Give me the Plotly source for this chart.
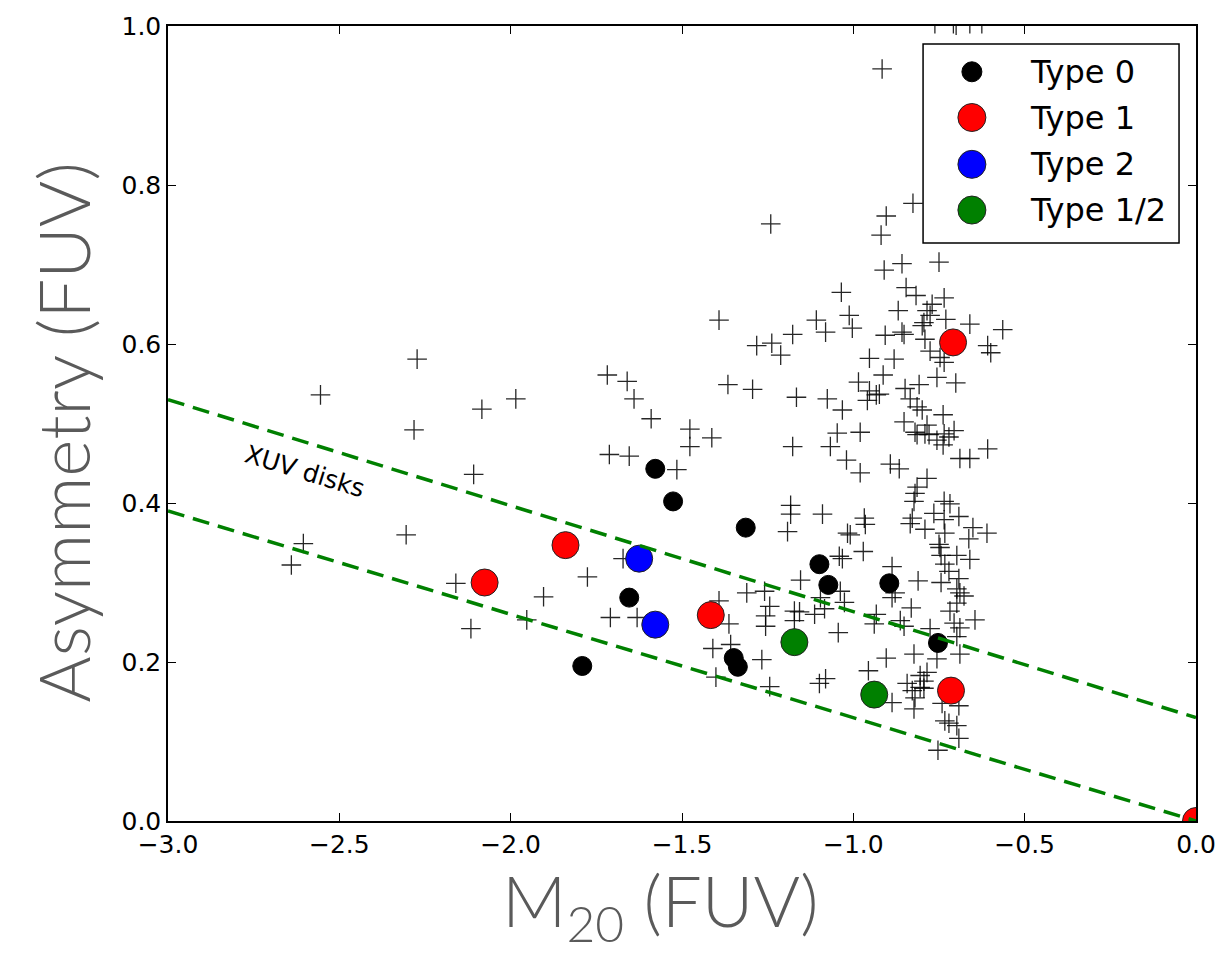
import plotly.graph_objects as go

# Whole-galaxy sample (plus markers): M20 and asymmetry in the FUV
sample_m20 = [
    -2.555, -2.273, -2.282, -2.084, -1.985, -1.718, -2.108, -1.712, -2.305, -2.605,
    -2.640, -2.160, -1.904, -1.776, -1.953, -2.116, -1.709,
    -1.392, -1.282, -1.238, -1.177, -1.212, -1.660, -1.640, -1.366, -1.294, -1.166,
    -1.590, -1.477, -1.413, -1.477, -1.177, -1.654, -1.515, -1.183, -1.183, -1.192,
    -1.241, -0.916, -0.826, -0.904, -0.919, -0.858, -0.750, -0.910,
    -0.762, -0.708, -0.700, -0.660, -0.625,
    -1.035, -0.846, -0.817, -0.735, -0.770, -0.785, -0.776, -0.869, -0.730, -0.794,
    -0.799, -1.012, -1.108, -0.660, -0.564, -1.081, -1.003, -0.907, -0.858, -0.852,
    -0.791, -0.776, -0.747, -0.735, -0.608, -0.599, -0.953, -0.881, -0.913, -0.985,
    -0.756, -0.701, -0.808, -0.849, -0.953, -0.933, -0.924, -0.959, -1.076, -0.834,
    -0.814, -0.799, -1.032, -0.738, -0.852, -0.785, -0.706, -0.820, -0.814, -0.791,
    -0.779, -0.735, -0.721, -1.047, -0.980, -0.756, -0.738, -1.067, -0.608, -0.689,
    -0.660, -1.020, -0.980, -0.892, -0.866, -0.785, -0.814, -0.820, -0.823, -0.735,
    -0.718, -0.765, -0.692, -1.090, -0.968, -0.828, -0.735,
    -0.965, -1.017, -1.009, -0.834, -0.791, -0.733, -0.651, -0.610, -0.663, -0.750,
    -0.747, -0.971, -1.041, -1.032, -0.698, -0.660, -0.744, -0.733, -0.721, -0.887,
    -0.744, -0.692, -0.811, -1.154, -0.878, -0.887, -0.698, -0.689, -0.677, -1.038,
    -1.026, -1.096, -1.084, -1.113, -1.157, -0.831, -0.718, -0.698, -0.933, -0.939,
    -0.863, -0.852, -0.645, -0.706, -0.689, -0.776, -0.698, -1.044, -0.689, -0.823,
    -0.756, -0.904, -0.956, -0.785, -0.805, -0.794, -1.081, -1.099, -0.843, -0.828,
    -0.805, -0.794, -0.820, -0.887, -0.823, -0.741, -0.692, -0.733, -0.721, -0.698,
    -0.692, -0.753,
    -1.672, -1.631, -1.392, -1.363, -1.311, -1.259, -1.244, -1.256, -1.256, -1.172,
    -1.172, -1.410, -1.358, -1.267, -1.401, -1.244,
]
sample_asym = [
    0.536, 0.581, 0.492, 0.518, 0.531, 0.561, 0.436, 0.461, 0.360, 0.349,
    0.322, 0.299, 0.282, 0.307, 0.253, 0.242, 0.256,
    0.630, 0.598, 0.601, 0.612, 0.586, 0.553, 0.531, 0.549, 0.543, 0.533,
    0.506, 0.493, 0.482, 0.471, 0.471, 0.459, 0.442, 0.397, 0.386, 0.364,
    0.751, 0.946, 0.777, 0.761, 0.737, 0.701, 0.703, 0.693,
    1.003, 1.003, 1.001, 1.003, 1.003,
    0.665, 0.671, 0.661, 0.658, 0.650, 0.642, 0.636, 0.642, 0.631, 0.627,
    0.623, 0.636, 0.630, 0.625, 0.618, 0.615, 0.620, 0.611, 0.615, 0.612,
    0.606, 0.591, 0.583, 0.577, 0.598, 0.589, 0.582, 0.581, 0.561, 0.552,
    0.558, 0.551, 0.549, 0.544, 0.541, 0.536, 0.537, 0.529, 0.531, 0.531,
    0.521, 0.517, 0.517, 0.511, 0.502, 0.498, 0.491, 0.489, 0.486, 0.487,
    0.486, 0.487, 0.483, 0.488, 0.489, 0.479, 0.473, 0.471, 0.468, 0.456,
    0.456, 0.454, 0.438, 0.449, 0.443, 0.431, 0.420, 0.412, 0.402, 0.402,
    0.399, 0.387, 0.383, 0.386, 0.381, 0.381, 0.379,
    0.373, 0.362, 0.360, 0.374, 0.367, 0.362, 0.369, 0.362, 0.355, 0.348,
    0.344, 0.339, 0.333, 0.330, 0.334, 0.329, 0.334, 0.323, 0.314, 0.320,
    0.300, 0.305, 0.302, 0.303, 0.287, 0.281, 0.292, 0.287, 0.283, 0.289,
    0.275, 0.281, 0.267, 0.260, 0.263, 0.268, 0.264, 0.274, 0.260, 0.248,
    0.252, 0.245, 0.253, 0.249, 0.243, 0.242, 0.232, 0.237, 0.210, 0.210,
    0.204, 0.205, 0.189, 0.187, 0.183, 0.176, 0.179, 0.173, 0.173, 0.164,
    0.168, 0.167, 0.155, 0.149, 0.141, 0.148, 0.145, 0.126, 0.123, 0.120,
    0.104, 0.089,
    0.330, 0.256, 0.277, 0.248, 0.287, 0.289, 0.270, 0.258, 0.245, 0.264,
    0.252, 0.217, 0.222, 0.203, 0.181, 0.169,
]

# Classified galaxies
type0_m20 = [-1.578, -1.526, -1.314, -1.654, -1.791, -1.349, -1.337, -1.099, -1.073, -0.895, -0.753]
type0_asym = [0.443, 0.402, 0.369, 0.281, 0.195, 0.205, 0.194, 0.323, 0.297, 0.299, 0.224]

type1_m20 = [-2.076, -1.840, -1.416, -0.709, -0.715, 0.0]
type1_asym = [0.300, 0.347, 0.259, 0.602, 0.164, 0.0]

type2_m20 = [-1.625, -1.578]
type2_asym = [0.330, 0.247]

type12_m20 = [-1.172, -0.939]
type12_asym = [0.225, 0.159]

# XUV-disk selection boundaries
boundary_m20 = [-3.0, 0.0]
upper_asym = [0.53, 0.13]
lower_asym = [0.39, 0.0]

legend_labels = ["Type 0", "Type 1", "Type 2", "Type 1/2"]
legend_colors = ["black", "#ff0000", "#0000ff", "#008000"]
legend_radius = [10, 14, 14, 14]

x_ticks = [-3.0, -2.5, -2.0, -1.5, -1.0, -0.5, 0.0]
y_ticks = [0.0, 0.2, 0.4, 0.6, 0.8, 1.0]

fig = go.Figure()

fig.add_trace(go.Scatter(
    x=sample_m20, y=sample_asym, mode="markers",
    marker=dict(symbol="cross-thin", size=14, color="black",
                line=dict(color="rgba(0,0,0,0.85)", width=1.3)),
))

fig.add_trace(go.Scatter(
    x=type0_m20, y=type0_asym, mode="markers",
    marker=dict(size=19, color="black", line=dict(color="black", width=1)),
))
for xs, ys, col in [(type1_m20, type1_asym, "#ff0000"),
                    (type2_m20, type2_asym, "#0000ff"),
                    (type12_m20, type12_asym, "#008000")]:
    fig.add_trace(go.Scatter(
        x=xs, y=ys, mode="markers",
        marker=dict(size=27, color=col, line=dict(color="#222222", width=1)),
    ))

for ys in (upper_asym, lower_asym):
    fig.add_trace(go.Scatter(
        x=boundary_m20, y=ys, mode="lines",
        line=dict(color="#008000", width=3.5, dash="17px,9px"),
    ))

# Hand-drawn legend box in the upper right
lx0, lx1, ly0, ly1 = 0.7345, 0.9835, 0.7272, 0.9775
shapes = [dict(type="rect", xref="paper", yref="paper", x0=lx0, x1=lx1, y0=ly0, y1=ly1,
               line=dict(color="black", width=1.5), fillcolor="white", layer="above")]
annotations = []
item_y = [0.9424, 0.8849, 0.8260, 0.7685]
for lab, col, r, yy in zip(legend_labels, legend_colors, legend_radius, item_y):
    shapes.append(dict(type="circle", xref="paper", yref="paper",
                       xsizemode="pixel", ysizemode="pixel",
                       xanchor=0.782, yanchor=yy, x0=-r, x1=r, y0=-r, y1=r,
                       fillcolor=col, line=dict(color="#222222" if r > 10 else "black", width=1),
                       layer="above"))
    annotations.append(dict(xref="paper", yref="paper", x=0.837, y=yy, text=lab,
                            showarrow=False, xanchor="left", yanchor="middle",
                            font=dict(family="DejaVu Sans", size=32, color="black")))

annotations.append(dict(x=-2.60, y=0.44, xref="x", yref="y", text="XUV disks",
                        showarrow=False, textangle=17,
                        font=dict(family="DejaVu Sans", size=25, color="black")))

title_font = dict(family="Lato", size=71, color="#5a5a5a", weight=300)
annotations.append(dict(xref="paper", yref="paper", x=-0.1027, y=0.489,
                        text="Asymmetry (FUV)", showarrow=False, textangle=-90,
                        xanchor="center", yanchor="middle", font=title_font))
annotations.append(dict(xref="paper", yref="paper", x=0.479, y=-0.106,
                        text="M<sub>20</sub> (FUV)", showarrow=False,
                        xanchor="center", yanchor="middle", font=title_font))

axis_common = dict(showline=True, linecolor="black", linewidth=1.5, mirror="ticks",
                   ticks="inside", ticklen=8, tickwidth=1, tickcolor="black",
                   showgrid=False, zeroline=False,
                   tickfont=dict(family="DejaVu Sans", size=25, color="black"))

fig.update_layout(
    width=1228, height=954,
    margin=dict(l=168, r=28, t=22, b=133),
    plot_bgcolor="white", paper_bgcolor="white",
    showlegend=False,
    shapes=shapes, annotations=annotations,
    xaxis=dict(range=[-3.0, 0.0], tickvals=x_ticks, tickformat=".1f", **axis_common),
    yaxis=dict(range=[0.0, 1.0], tickvals=y_ticks, tickformat=".1f", **axis_common),
)

fig.write_html("out.html")
